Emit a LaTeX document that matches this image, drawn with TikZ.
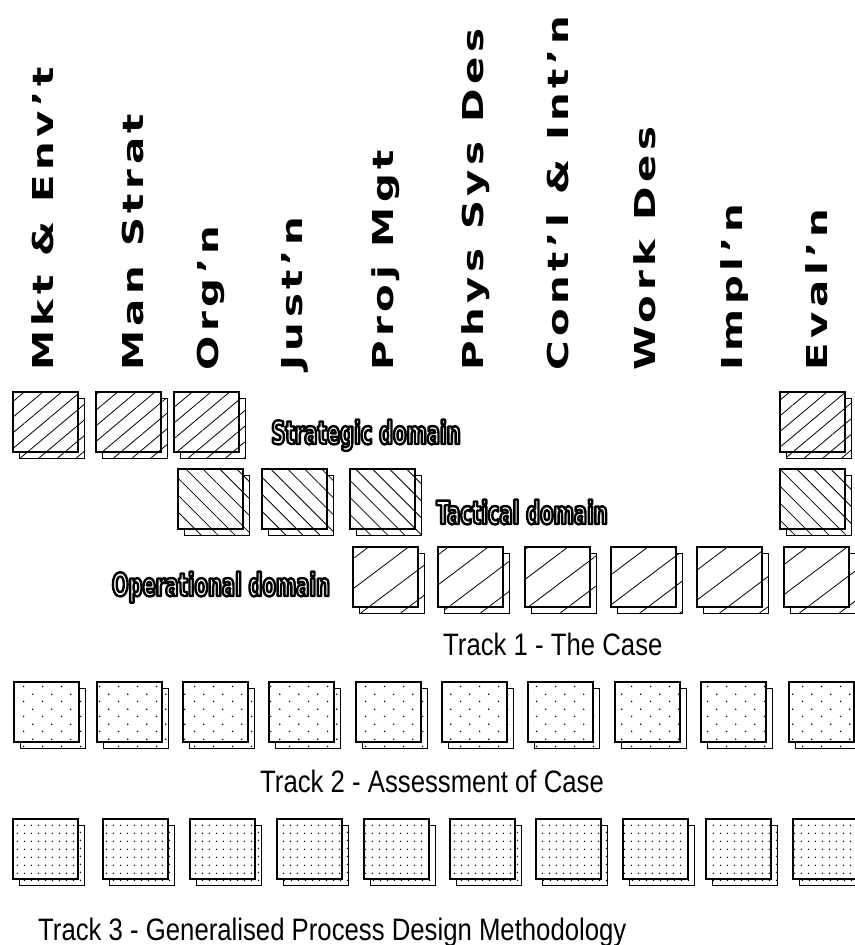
\documentclass[tikz,border=0pt]{standalone}
\usepackage{fontspec}
\usetikzlibrary{patterns.meta}
\newfontfamily\headfont{DejaVu Sans}[FakeStretch=1.4,LetterSpace=16]
\newfontfamily\domainfont{DejaVu Sans}[FakeStretch=0.61]
\newfontfamily\trackfont{Liberation Sans}[FakeStretch=0.83]
% white letters with a black rim (stroked text)
\newcommand{\outlined}[1]{\textcolor{white}{\special{pdf:code 0 G 2.4 w 1 j 2 Tr}#1\special{pdf:code 0 Tr 1 w}}}

\tikzdeclarepattern{
  name=casedots, type=uncolored,
  bounding box={(0pt,0pt) and (19pt,15pt)},
  tile size={(19pt,15pt)},
  code={\fill (4.75pt,3.75pt) circle (0.9pt); \fill (14.25pt,11.25pt) circle (0.9pt);}
}
\tikzdeclarepattern{
  name=methdots, type=uncolored,
  bounding box={(0pt,0pt) and (7.4pt,7.6pt)},
  tile size={(7.4pt,7.6pt)},
  code={\fill (3.7pt,3.8pt) circle (0.8pt);}
}

\begin{document}
\begin{tikzpicture}[
  x=1pt, y=-1pt,
  card/.style={draw, line width=1.3pt, inner sep=0pt, outer sep=0pt, anchor=north west,
    minimum width=65pt, minimum height=60pt,
    preaction={draw, line width=0.9pt, pattern={#1}, transform canvas={shift={(6.5pt,-6.5pt)}}},
    preaction={fill=white}, pattern={#1}},
  stratcard/.style={card={Lines[angle=40,distance=12pt,line width=0.8pt]}},
  tactcard/.style={card={Lines[angle=-45,distance=12pt,line width=0.8pt]}},
  opcard/.style={card={Lines[angle=37,distance=24pt,line width=0.8pt]}},
  casecard/.style={card=casedots},
  methcard/.style={card=methdots},
  headlabel/.style={rotate=90, anchor=base west, inner sep=0pt,
    font=\headfont\bfseries\fontsize{28.8}{30}\selectfont},
  domainlabel/.style={anchor=base, inner sep=0pt,
    font=\domainfont\bfseries\fontsize{32}{34}\selectfont},
  tracklabel/.style={anchor=base west, inner sep=0pt,
    font=\trackfont\fontsize{31}{33}\selectfont},
]
  \useasboundingbox (0,0) rectangle (854,945);

  % column headings
  \foreach \x/\txt [count=\i] in {53/Mkt \& Env’t, 143/Man Strat, 218/Org’n,
      302/Just’n, 393/Proj Mgt, 483/Phys Sys Des, 568/Cont’l \& Int’n,
      655/Work Des, 742/Impl’n, 827/Eval’n}
    \node[headlabel] (head\i) at (\x,371) {\txt};

  % track 1 - the case
  \foreach \x [count=\i] in {13,96,174,780}
    \node[stratcard] (strat\i) at (\x,392) {};
  \foreach \x [count=\i] in {178,262,350,780}
    \node[tactcard] (tact\i) at (\x,469) {};
  \foreach \x [count=\i] in {353,438,525,611,697,784}
    \node[opcard] (oper\i) at (\x,547) {};

  \node[domainlabel] (strategic) at (366,444) {\outlined{Strategic domain}};
  \node[domainlabel] (tactical) at (522,524) {\outlined{Tactical domain}};
  \node[domainlabel] (operational) at (221,596) {\outlined{Operational domain}};

  \node[tracklabel] (track1) at (443,655) {Track 1 - The Case};

  % track 2 - assessment
  \foreach \x [count=\i] in {14,97,183,269,356,442,528,615,701,789}
    \node[casecard] (case\i) at (\x,682) {};
  \node[tracklabel] (track2) at (260,792) {Track 2 - Assessment of Case};

  % track 3 - methodology
  \foreach \x [count=\i] in {13,103,190,277,364,450,536,623,706,793}
    \node[methcard] (meth\i) at (\x,819) {};
  \node[tracklabel] (track3) at (38,940) {Track 3 - Generalised Process Design Methodology};
\end{tikzpicture}
\end{document}
